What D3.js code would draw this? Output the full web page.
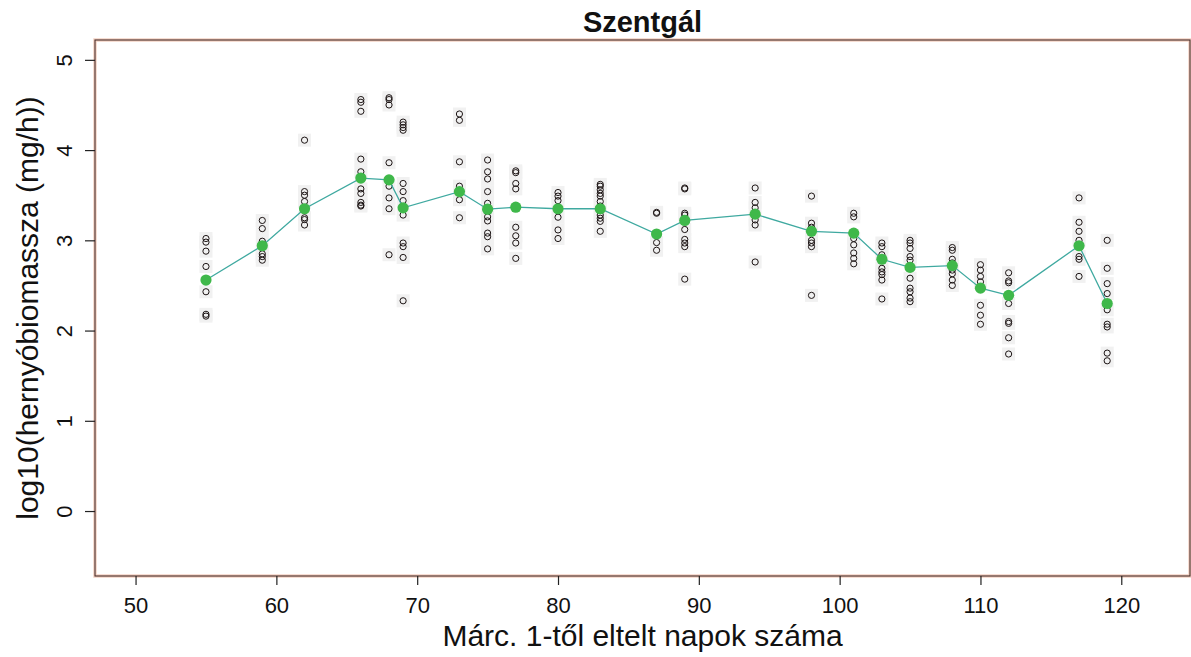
<!DOCTYPE html>
<html>
<head>
<meta charset="utf-8">
<script src="https://cdn.jsdelivr.net/npm/d3@7"></script>
<style>
  html, body { margin: 0; padding: 0; background: #fff; }
  svg { display: block; font-family: "Liberation Sans", Arial, sans-serif; }
</style>
</head>
<body>
<svg id="chart" width="1191" height="657"></svg>
<script>
// Sampling days (days elapsed since 1 March)
const days = [55, 59, 62, 66, 68, 69, 73, 75, 77, 80, 83, 87, 89, 94, 98, 101, 103, 105, 108, 110, 112, 117, 119];

// Daily mean of log10 caterpillar biomass
const dayMeans = [2.56, 2.94, 3.35, 3.69, 3.67, 3.36, 3.54, 3.345, 3.367, 3.35, 3.35, 3.07, 3.22, 3.29, 3.10, 3.08, 2.79, 2.70, 2.72, 2.47, 2.39, 2.94, 2.30];

// Individual samples per day, log10(mg/h)
const samples = [
  [3.02, 2.98, 2.88, 2.71, 2.43, 2.18, 2.16],
  [3.22, 3.13, 2.99, 2.85, 2.82, 2.78],
  [4.11, 3.54, 3.50, 3.43, 3.25, 3.23, 3.17],
  [4.56, 4.53, 4.43, 3.90, 3.76, 3.57, 3.52, 3.42, 3.39, 3.38],
  [4.58, 4.56, 4.50, 3.86, 3.60, 3.47, 3.35, 2.84],
  [4.31, 4.28, 4.25, 4.22, 3.63, 3.54, 3.44, 3.28, 2.97, 2.93, 2.81, 2.33],
  [4.40, 4.33, 3.87, 3.60, 3.45, 3.25],
  [3.89, 3.76, 3.68, 3.54, 3.41, 3.26, 3.215, 3.08, 3.04, 2.905],
  [3.77, 3.75, 3.63, 3.57, 3.145, 3.05, 2.97, 2.80],
  [3.53, 3.49, 3.44, 3.256, 3.115, 3.02],
  [3.62, 3.60, 3.56, 3.52, 3.49, 3.43, 3.38, 3.28, 3.245, 3.21, 3.10],
  [3.31, 3.30, 2.975, 2.89],
  [3.58, 3.57, 3.30, 3.28, 3.12, 3.01, 2.97, 2.93, 2.57],
  [3.58, 3.42, 3.36, 3.226, 3.17, 2.76],
  [3.49, 3.19, 3.145, 3.10, 3.00, 2.97, 2.93, 2.39],
  [3.30, 3.26, 3.02, 2.95, 2.86, 2.80, 2.74],
  [2.97, 2.93, 2.84, 2.69, 2.65, 2.62, 2.56, 2.35],
  [3.00, 2.97, 2.91, 2.82, 2.78, 2.58, 2.47, 2.43, 2.36, 2.32],
  [2.92, 2.89, 2.79, 2.75, 2.67, 2.63, 2.56, 2.50],
  [2.73, 2.67, 2.60, 2.54, 2.28, 2.17, 2.07],
  [2.64, 2.55, 2.53, 2.30, 2.10, 2.08, 1.92, 1.74],
  [3.47, 3.20, 3.10, 3.00, 2.82, 2.79, 2.60],
  [3.00, 2.69, 2.52, 2.41, 2.23, 2.07, 2.04, 1.75, 1.665]
];

const xTicks = [50, 60, 70, 80, 90, 100, 110, 120];
const yTicks = [0, 1, 2, 3, 4, 5];

const titleText = "Szentgál";
const xTitle = "Márc. 1-től eltelt napok száma";
const yTitle = "log10(hernyóbiomassza (mg/h))";

// Plot region (R-style 4% padding around xlim = [50,122], ylim = [-0.5,5])
const box = { left: 95, right: 1190, top: 40, bottom: 576 };
const padX = 0.04 * (122 - 50), padY = 0.04 * (5 - (-0.5));

const x = d3.scaleLinear().domain([50 - padX, 122 + padX]).range([box.left, box.right]);
const y = d3.scaleLinear().domain([-0.5 - padY, 5 + padY]).range([box.bottom, box.top]);

const svg = d3.select("#chart");
svg.append("rect").attr("width", 1191).attr("height", 657).attr("fill", "#fff");

// Flatten samples into points
const points = [];
days.forEach((d, i) => samples[i].forEach(v => points.push({ day: d, value: v })));

// Faint grey backdrop behind each sample marker
svg.append("g").selectAll("rect").data(points).join("rect")
  .attr("x", p => x(p.day) - 6.5)
  .attr("y", p => y(p.value) - 6.5)
  .attr("width", 13).attr("height", 13)
  .attr("fill", "#f1f1f1");

// Sample markers: open circles
svg.append("g").selectAll("circle").data(points).join("circle")
  .attr("cx", p => x(p.day))
  .attr("cy", p => y(p.value))
  .attr("r", 3.1)
  .attr("fill", "none")
  .attr("stroke", "#1c1414")
  .attr("stroke-width", 1);

// Line through the daily means
const means = days.map((d, i) => ({ day: d, value: dayMeans[i] }));
svg.append("path")
  .datum(means)
  .attr("fill", "none")
  .attr("stroke", "#3fa9a0")
  .attr("stroke-width", 1.3)
  .attr("d", d3.line().x(p => x(p.day)).y(p => y(p.value)));

svg.append("g").selectAll("circle").data(means).join("circle")
  .attr("cx", p => x(p.day))
  .attr("cy", p => y(p.value))
  .attr("r", 5.6)
  .attr("fill", "#3fb84a");

// Plot box: faint warm halo under a dark frame
svg.append("rect")
  .attr("x", box.left).attr("y", box.top)
  .attr("width", box.right - box.left).attr("height", box.bottom - box.top)
  .attr("fill", "none").attr("stroke", "#f4d2c4").attr("stroke-width", 3.5);
svg.append("rect")
  .attr("x", box.left).attr("y", box.top)
  .attr("width", box.right - box.left).attr("height", box.bottom - box.top)
  .attr("fill", "none").attr("stroke", "#4a2e2a").attr("stroke-width", 1.1);

// X axis
const gx = svg.append("g")
  .attr("transform", `translate(0,${box.bottom})`)
  .call(d3.axisBottom(x).tickValues(xTicks).tickFormat(d3.format("d")).tickSize(9).tickSizeOuter(0));
gx.select(".domain").remove();
gx.selectAll(".tick line").attr("stroke", "#222").attr("stroke-width", 1.2);
gx.selectAll(".tick text")
  .attr("y", 37).attr("dy", null)
  .attr("fill", "#111")
  .style("font-size", "22px")
  .style("font-family", "'Liberation Sans', Arial, sans-serif");

// Y axis with rotated labels
const gy = svg.append("g")
  .attr("transform", `translate(${box.left},0)`)
  .call(d3.axisLeft(y).tickValues(yTicks).tickFormat(d3.format("d")).tickSize(10).tickSizeOuter(0));
gy.select(".domain").remove();
gy.selectAll(".tick line").attr("stroke", "#222").attr("stroke-width", 1.2);
gy.selectAll(".tick text")
  .attr("x", 0).attr("y", -23).attr("dy", null)
  .attr("transform", "rotate(-90)")
  .attr("text-anchor", "middle")
  .attr("fill", "#111")
  .style("font-size", "22px")
  .style("font-family", "'Liberation Sans', Arial, sans-serif");

// Title and axis titles
const cx = (box.left + box.right) / 2;
svg.append("text")
  .attr("x", cx).attr("y", 32)
  .attr("text-anchor", "middle")
  .attr("font-weight", "bold")
  .attr("font-size", 29)
  .attr("fill", "#111")
  .text(titleText);

svg.append("text")
  .attr("x", cx).attr("y", 646)
  .attr("text-anchor", "middle")
  .attr("font-size", 30)
  .attr("fill", "#111")
  .text(xTitle);

svg.append("text")
  .attr("transform", `translate(38,${(box.top + box.bottom) / 2}) rotate(-90)`)
  .attr("text-anchor", "middle")
  .attr("font-size", 30)
  .attr("fill", "#111")
  .text(yTitle);
</script>
</body>
</html>
